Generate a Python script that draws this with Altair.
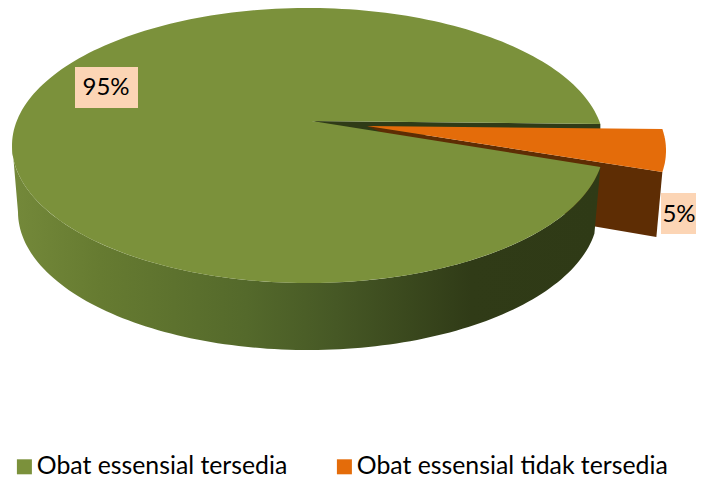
import numpy as np
import pandas as pd
import altair as alt

# values
categories = ["Obat essensial tersedia", "Obat essensial tidak tersedia"]
shares = [95, 5]
label_texts = ["95%", "5%"]
top_colors = ["#7B913B", "#E46C0A"]
brown = "#5E2D04"
dark_green = "#2F3B17"
label_bg = "#FCD5B5"
FONT = "Lato"

# layout of the tilted disc (picture coordinates)
cx, cy, rx, ry = 308, 145.5, 296, 137.5
bx, by, brx, bry = 308, 212, 290, 138
apex = (312, 121)
ex_apex = (367, 126)
ex = (62, 5)
half = np.radians(shares[1] / sum(shares) * 360 / 2)


def rim(a, c=(cx, cy), r=(rx, ry)):
    return c[0] + r[0] * np.cos(a), c[1] + r[1] * np.sin(a)


def poly(points, fill):
    pts = np.array(points)
    df = pd.DataFrame({"x": pts[:, 0], "y": pts[:, 1], "i": np.arange(len(pts))})
    return alt.Chart(df).mark_line(fill=fill, stroke="transparent", strokeWidth=0, interpolate="linear").encode(
        x=alt.X("x:Q", scale=xs, axis=None),
        y=alt.Y("y:Q", scale=ys, axis=None),
        order="i:Q",
    )


xs = alt.Scale(domain=[8, 696], nice=False, zero=False)
ys = alt.Scale(domain=[478, 8], nice=False, zero=False)

a_green = np.linspace(half, 2 * np.pi - half, 240)
green_top = [apex] + list(zip(*rim(a_green)))

a_side_t = np.linspace(half, np.pi + 0.02, 120)
a_side_b = np.linspace(np.pi, half, 120)
green_side = list(zip(*rim(a_side_t))) + list(zip(*rim(a_side_b, (bx, by), (brx, bry))))

a_or = np.linspace(-half, half, 30)
ox, oy = rim(a_or)
orange_top = [ex_apex] + list(zip(ox + ex[0], oy + ex[1]))

lc = (ox[-1] + ex[0], oy[-1] + ex[1])
brown_wall = [ex_apex, lc, (lc[0] - 6, lc[1] + 65), (592, 226)]

gap = [apex, rim(-half), (rim(-half)[0], 135), (ex_apex[0], 135)]

side_grad = alt.Gradient(
    gradient="linear", x1=0, x2=1, y1=0, y2=0,
    stops=[
        alt.GradientStop(color="#74893A", offset=0),
        alt.GradientStop(color="#667B31", offset=0.15),
        alt.GradientStop(color="#54692B", offset=0.4),
        alt.GradientStop(color="#465825", offset=0.55),
        alt.GradientStop(color="#303B17", offset=0.78),
        alt.GradientStop(color="#2F3A16", offset=1),
    ],
)

lab = pd.DataFrame({
    "t": label_texts,
    "x0": [75, 661], "x1": [138, 696],
    "y0": [67, 193], "y1": [108, 234],
    "xt": [106, 679], "yt": [88, 215],
})
rects = alt.Chart(lab).mark_rect(fill=label_bg).encode(
    x=alt.X("x0:Q", scale=xs, axis=None), x2="x1:Q",
    y=alt.Y("y0:Q", scale=ys, axis=None), y2="y1:Q",
)
texts = alt.Chart(lab).mark_text(font=FONT, fontSize=24, color="#000000", baseline="middle", align="center").encode(
    x=alt.X("xt:Q", scale=xs, axis=None),
    y=alt.Y("yt:Q", scale=ys, axis=None),
    text="t:N",
)

legend_layer = alt.Chart(pd.DataFrame({"cat": categories, "v": shares})).mark_square(size=0, opacity=1).encode(
    x=alt.value(0), y=alt.value(0),
    color=alt.Color(
        "cat:N",
        scale=alt.Scale(domain=categories, range=top_colors),
        legend=alt.Legend(
            orient="none", legendX=4, legendY=446, columns=2, columnPadding=44,
            title=None, symbolType="square", symbolSize=225, symbolStrokeWidth=0, symbolOpacity=1,
            labelFont=FONT, labelFontSize=24.8, labelColor="#000000", labelOffset=0,
            labelLimit=400,
        ),
    ),
)

chart = alt.layer(
    poly(gap, dark_green),
    poly(brown_wall, brown),
    poly(orange_top, top_colors[1]),
    poly(green_side, side_grad),
    poly(green_top, top_colors[0]),
    rects,
    texts,
    legend_layer,
).properties(
    width=688, height=470, padding=0, autosize=alt.AutoSizeParams(type="none"),
).configure_view(stroke=None)

chart.save("out.html", embed_options={"renderer": "svg", "actions": False})
